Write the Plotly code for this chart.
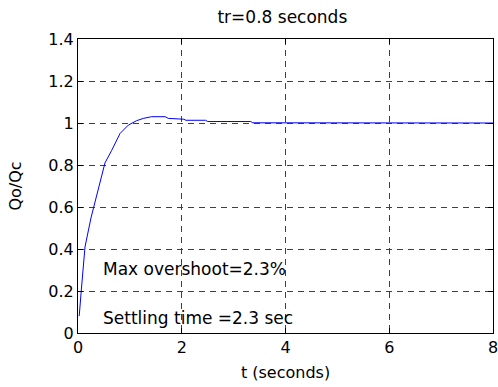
import plotly.graph_objects as go

t_values = [0.02, 0.025, 0.064, 0.135, 0.25, 0.31, 0.39, 0.52, 0.65, 0.81, 0.97, 1.13, 1.26, 1.42, 1.68,
            1.74, 2.04, 2.08, 2.46, 2.50, 3.33, 3.37, 8.0]
q_ratio = [0.08, 0.086, 0.205, 0.41, 0.548, 0.605, 0.68, 0.81, 0.87, 0.95, 0.99, 1.011, 1.022, 1.03, 1.03,
           1.022, 1.018, 1.013, 1.013, 1.007, 1.007, 1.001, 1.0]

x_ticks = [0, 2, 4, 6, 8]
y_ticks = [0, 0.2, 0.4, 0.6, 0.8, 1, 1.2, 1.4]
y_tick_text = ["0", "0.2", "0.4", "0.6", "0.8", "1", "1.2", "1.4"]

title_text = "tr=0.8 seconds"
x_label = "t (seconds)"
y_label = "Qo/Qc"
notes = ["Max overshoot=2.3%", "Settling time =2.3 sec"]
note_pos = [(0.45, 0.305), (0.45, 0.072)]

FONT = "DejaVu Sans"
fig = go.Figure()
fig.add_trace(go.Scatter(x=t_values, y=q_ratio, mode="lines",
                         line=dict(color="#0000ff", width=1), showlegend=False, cliponaxis=True))

axis_common = dict(showline=True, linecolor="black", linewidth=1, mirror="ticks",
                   ticks="inside", ticklen=5, tickcolor="black", automargin=False,
                   ticklabeloverflow="allow",
                   showgrid=True, gridcolor="#404040", gridwidth=1, griddash="6px,5px",
                   zeroline=False, tickfont=dict(family=FONT, size=16, color="black"))

fig.update_xaxes(range=[0, 8], tickvals=x_ticks, **axis_common,
                 title=dict(text=x_label, font=dict(family=FONT, size=16, color="black"), standoff=10))
fig.update_yaxes(range=[0, 1.4], tickvals=y_ticks, ticktext=y_tick_text, **axis_common,
                 title=dict(text=y_label, font=dict(family=FONT, size=16, color="black"), standoff=22))

for txt, (xx, yy) in zip(notes, note_pos):
    fig.add_annotation(x=xx, y=yy, xref="x", yref="y", text=txt, showarrow=False,
                       xanchor="left", yanchor="middle",
                       font=dict(family=FONT, size=17, color="black"))

fig.update_layout(
    width=498, height=387,
    margin=dict(l=78, r=5, t=39, b=54, autoexpand=False),
    paper_bgcolor="white", plot_bgcolor="white",
    title=dict(text=title_text, x=0.567, xanchor="center", y=0.957, yanchor="middle",
               font=dict(family=FONT, size=17, color="black")),
)

fig.write_html("out.html", config={"displayModeBar": False},
               post_script="document.body.style.margin='0';document.body.style.padding='0';"
                           "document.body.style.overflow='hidden';")
